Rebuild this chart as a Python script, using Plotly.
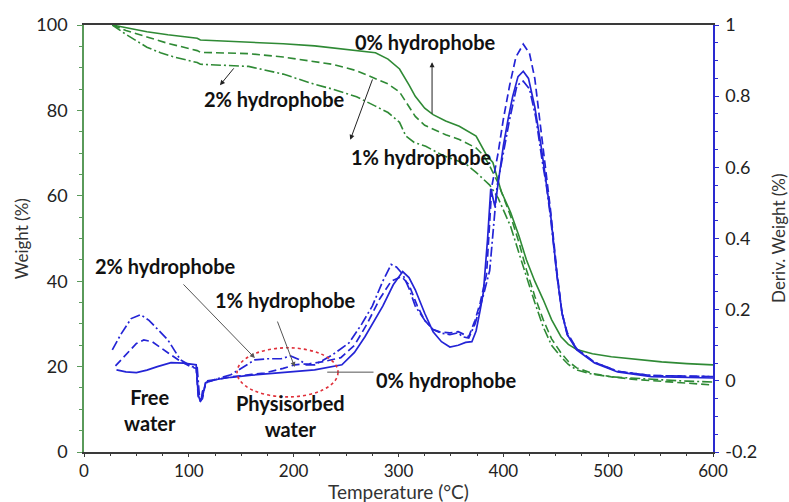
import plotly.graph_objects as go

# ---------------- TGA weight curves (left axis, %) ----------------
tga_T_0 = [27, 40, 60, 80, 100, 108, 111, 130, 157, 190, 220, 237, 260, 278, 290, 301, 310,
           316, 325, 333, 345, 358, 374, 380, 384, 390, 398, 407, 415, 422, 430, 438, 446,
           455, 462, 470, 485, 503, 525, 551, 575, 600]
tga_W_0 = [100, 99.4, 98.4, 97.7, 97.2, 96.9, 96.5, 96.3, 96.0, 95.6, 95.1, 94.6, 94.0, 93.5,
           92.0, 89.7, 86.0, 83.3, 80.5, 79.0, 77.5, 76.3, 74.0, 71.5, 69.5, 67.8, 61.0, 56.1,
           50.5, 45.0, 40.0, 35.7, 31.0, 27.0, 25.2, 24.0, 23.0, 22.3, 21.7, 21.1, 20.7, 20.4]

tga_T_1 = [27, 40, 60, 80, 100, 108, 111, 130, 157, 190, 220, 237, 260, 278, 290, 301, 310,
           316, 325, 333, 345, 358, 374, 381, 387, 395, 407, 415, 422, 430, 438, 446, 455,
           462, 470, 485, 503, 525, 551, 575, 600]
tga_W_1 = [100, 98.7, 97.2, 95.7, 94.5, 94.0, 93.6, 93.5, 93.3, 92.5, 91.5, 90.8, 89.3, 87.5,
           86.2, 84.3, 81.0, 78.6, 76.5, 75.6, 74.3, 73.2, 71.2, 69.5, 67.0, 63.0, 55.2, 49.0,
           42.7, 36.5, 31.0, 26.5, 23.2, 21.2, 19.7, 18.4, 17.6, 17.0, 16.5, 16.1, 15.7]

tga_T_2 = [27, 40, 60, 73, 86, 100, 108, 111, 130, 157, 190, 220, 237, 260, 278, 290, 301,
           307, 315, 326, 342, 364, 374, 387, 395, 407, 415, 422, 430, 438, 446, 455, 462,
           470, 485, 503, 525, 551, 575, 600]
tga_W_2 = [100, 97.8, 94.8, 93.5, 92.5, 91.6, 91.2, 90.8, 90.6, 90.3, 88.5, 86.1, 85.0, 83.2,
           81.0, 79.5, 77.2, 74.0, 72.5, 71.6, 69.5, 67.5, 65.5, 62.5, 59.5, 52.8, 46.5, 41.0,
           35.0, 29.3, 25.0, 22.3, 20.5, 19.2, 18.2, 17.6, 17.2, 16.9, 16.6, 16.4]

# ---------------- DTG curves (right axis, %/°C) ----------------
dtg_T_0 = [31, 40, 50, 60, 70, 83, 95, 102, 107, 109, 111, 113, 116, 125, 140, 160, 190, 220,
           246, 258, 268, 277, 285, 295, 304, 310, 316, 325, 333, 341, 349, 357, 364, 370,
           374, 378, 381, 385, 388, 392, 396, 400, 404.5, 409, 414, 419, 424, 430, 436, 441,
           445, 451, 456, 461, 470, 487, 509, 541, 570, 600]
dtg_V_0 = [0.031, 0.025, 0.023, 0.030, 0.040, 0.051, 0.050, 0.048, 0.045, -0.040, -0.058,
           -0.045, -0.005, 0.003, 0.010, 0.016, 0.024, 0.031, 0.045, 0.080, 0.124, 0.170,
           0.210, 0.270, 0.307, 0.290, 0.256, 0.190, 0.138, 0.110, 0.095, 0.100, 0.108,
           0.110, 0.140, 0.200, 0.250, 0.400, 0.540, 0.490, 0.580, 0.660, 0.735, 0.800,
           0.855, 0.870, 0.850, 0.770, 0.660, 0.560, 0.470, 0.300, 0.190, 0.130, 0.087,
           0.050, 0.025, 0.012, 0.009, 0.008]

dtg_T_1 = [30, 40, 50, 57, 65, 80, 92, 102, 107, 109, 111, 113, 116, 125, 140, 160, 172, 190,
           201, 215, 230, 245, 258, 270, 282, 293, 303, 310, 318, 325, 333, 340, 349, 357,
           362, 367, 373, 378, 384, 389, 395, 400, 406, 412, 419, 425, 430, 436, 441, 445,
           451, 456, 461, 470, 487, 509, 541, 570, 600]
dtg_V_1 = [0.042, 0.075, 0.105, 0.115, 0.110, 0.079, 0.055, 0.039, 0.035, -0.045, -0.057,
           -0.050, -0.005, 0.003, 0.011, 0.018, 0.022, 0.035, 0.045, 0.048, 0.055, 0.065,
           0.100, 0.160, 0.230, 0.280, 0.293, 0.270, 0.210, 0.170, 0.144, 0.137, 0.135,
           0.138, 0.130, 0.124, 0.170, 0.220, 0.300, 0.546, 0.640, 0.735, 0.830, 0.910,
           0.946, 0.920, 0.850, 0.700, 0.580, 0.480, 0.310, 0.190, 0.135, 0.090, 0.052,
           0.027, 0.015, 0.013, 0.012]

dtg_T_2 = [27, 35, 45, 54, 62, 72, 80, 92, 103, 108, 110, 111.5, 113, 118, 124, 140, 150, 163,
           175, 188, 197, 205, 212, 220, 228, 237, 253, 265, 275, 285, 293, 298, 304, 310,
           316, 325, 333, 341, 349, 357, 361, 367, 373, 380, 387, 394, 400, 406, 413, 419,
           425, 431, 437, 441, 445, 451, 456, 461, 470, 487, 509, 541, 570, 600]
dtg_V_2 = [0.087, 0.130, 0.175, 0.186, 0.170, 0.140, 0.115, 0.059, 0.040, 0.037, -0.040,
           -0.058, -0.030, 0.000, 0.003, 0.017, 0.035, 0.059, 0.062, 0.062, 0.070, 0.060,
           0.045, 0.045, 0.058, 0.073, 0.107, 0.160, 0.210, 0.280, 0.327, 0.320, 0.300,
           0.260, 0.210, 0.170, 0.144, 0.134, 0.130, 0.135, 0.124, 0.120, 0.160, 0.230,
           0.310, 0.546, 0.640, 0.735, 0.830, 0.842, 0.820, 0.740, 0.620, 0.550, 0.460,
           0.300, 0.190, 0.130, 0.090, 0.052, 0.027, 0.015, 0.013, 0.012]

# ---------------- axis ticks ----------------
x_ticks = [0, 100, 200, 300, 400, 500, 600]
y_ticks = [0, 20, 40, 60, 80, 100]
y2_ticks = [-0.2, 0, 0.2, 0.4, 0.6, 0.8, 1]
y2_tick_text = ["-0.2", "0", "0.2", "0.4", "0.6", "0.8", "1"]

GREEN = "#2f8a35"
BLUE = "#2424d6"
FONT = "Lato"

fig = go.Figure()

# weight-loss curves
for T, W, dash in [(tga_T_0, tga_W_0, "solid"),
                   (tga_T_1, tga_W_1, "8px,4px"),
                   (tga_T_2, tga_W_2, "10px,3px,2px,3px")]:
    fig.add_trace(go.Scatter(x=T, y=W, mode="lines", yaxis="y",
                             line=dict(color=GREEN, width=1.6, dash=dash),
                             showlegend=False))

# derivative curves
for T, V, dash in [(dtg_T_0, dtg_V_0, "solid"),
                   (dtg_T_1, dtg_V_1, "8px,4px"),
                   (dtg_T_2, dtg_V_2, "10px,3px,2px,3px")]:
    fig.add_trace(go.Scatter(x=T, y=V, mode="lines", yaxis="y2",
                             line=dict(color=BLUE, width=1.7, dash=dash),
                             showlegend=False))

bold = dict(family=FONT, size=20, color="#111111", weight="bold")

# text labels (placed in temperature / weight coordinates)
labels = [
    (326, 96.0, "0% hydrophobe"),
    (182, 82.7, "2% hydrophobe"),
    (322, 69.1, "1% hydrophobe"),
    (78, 43.6, "2% hydrophobe"),
    (192, 35.6, "1% hydrophobe"),
    (346, 16.9, "0% hydrophobe"),
    (63, 9.8, "Free<br>water"),
    (196.5, 8.4, "Physisorbed<br>water"),
]
annotations = []
for x, y, t in labels:
    annotations.append(dict(x=x, y=y, xref="x", yref="y", text=t, showarrow=False,
                            font=bold, align="center"))

# pointer arrows: (head T, head W, tail T, tail W, head style, colour)
pointers = [
    (332, 91.3, 332, 78.9, 2, "#222222"),
    (254, 73.1, 275.7, 87.6, 2, "#222222"),
    (129.7, 85.9, 144, 90.2, 2, "#222222"),
    (163, 22.0, 93.5, 39.6, 2, "#555555"),
    (201, 19.9, 184, 30.9, 2, "#555555"),
    (232, 18.7, 277.6, 18.7, 0, "#555555"),
]
for hx, hy, tx, ty, head, col in pointers:
    annotations.append(dict(x=hx, y=hy, xref="x", yref="y", ax=tx, ay=ty,
                            axref="x", ayref="y", text="", showarrow=True,
                            arrowhead=head, arrowsize=1, arrowwidth=1,
                            arrowcolor=col, standoff=0, startstandoff=0))

# axis titles
title_color = "#333333"
annotations += [
    dict(text="Temperature (°C)", xref="paper", yref="paper", x=0.5, y=-0.093,
         xanchor="center", yanchor="middle", showarrow=False,
         font=dict(family=FONT, size=19, color=title_color)),
    dict(text="Weight (%)", xref="paper", yref="paper", x=-0.099, y=0.5,
         xanchor="center", yanchor="middle", showarrow=False, textangle=-90,
         font=dict(family=FONT, size=17, color=title_color)),
    dict(text="Deriv. Weight (%)", xref="paper", yref="paper", x=1.104, y=0.5,
         xanchor="center", yanchor="middle", showarrow=False, textangle=-90,
         font=dict(family=FONT, size=17, color=title_color)),
]

shapes = [
    # physisorbed-water region
    dict(type="circle", xref="x", yref="y", x0=146, x1=242.3, y0=12.9, y1=24.4,
         line=dict(color="#e0303a", width=1.6, dash="dot")),
]

tick_font = dict(family=FONT, size=18, color="#222222")

fig.update_layout(
    width=789, height=502,
    margin=dict(l=84, r=76, t=25, b=50),
    paper_bgcolor="white", plot_bgcolor="white",
    annotations=annotations, shapes=shapes,
    xaxis=dict(range=[0, 600], tickvals=x_ticks, showgrid=False, zeroline=False,
               automargin=False,
               showline=True, linecolor="#3a3a3a", linewidth=1.5, mirror=True,
               ticks="outside", ticklen=3, tickcolor="#3a3a3a",
               minor=dict(ticks="outside", dtick=25, ticklen=2, tickcolor="#3a3a3a"),
               tickfont=dict(family=FONT, size=17, color="#222222")),
    yaxis=dict(range=[0, 100], tickvals=y_ticks, showgrid=False, zeroline=False,
               automargin=False,
               showline=True, linecolor="#5a9a5a", linewidth=1.5,
               ticks="outside", ticklen=5, tickcolor="#5a9a5a",
               minor=dict(ticks="outside", dtick=5, ticklen=3, tickcolor="#5a9a5a"),
               tickfont=tick_font, ticklabelstandoff=6),
    yaxis2=dict(range=[-0.2, 1], overlaying="y", side="right",
                automargin=False,
                tickvals=y2_ticks, ticktext=y2_tick_text, showgrid=False, zeroline=False,
                showline=True, linecolor="#2a2ad0", linewidth=1.5,
                ticks="outside", ticklen=4, tickcolor="#2a2ad0",
                minor=dict(ticks="outside", dtick=0.05, ticklen=3, tickcolor="#2a2ad0"),
                tickfont=tick_font, ticklabelstandoff=3),
)

fig.write_html("out.html")
